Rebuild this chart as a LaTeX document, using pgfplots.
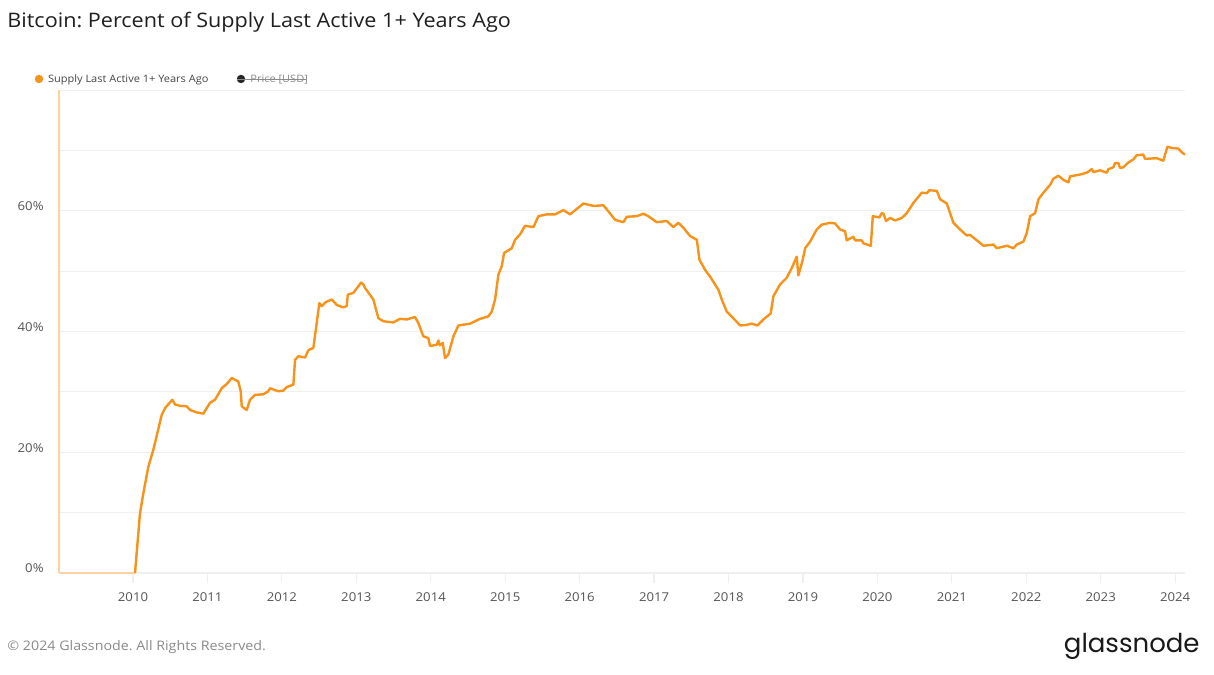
\documentclass[border=0pt]{standalone}
\usepackage{fontspec}
\setmainfont{Open Sans}[FakeStretch=1.08]
\newfontfamily\logofont{Poppins}
\usepackage{pgfplots}
\pgfplotsset{compat=1.18}
\definecolor{btc}{HTML}{F7931A}
\definecolor{btclight}{HTML}{FCD3A0}
\definecolor{gridc}{HTML}{EFEFEF}
\definecolor{tickc}{HTML}{555555}
\definecolor{legc}{HTML}{444444}
\definecolor{footc}{HTML}{8A8A8A}
\frenchspacing
\begin{document}
\begin{tikzpicture}
\useasboundingbox (0,0) rectangle (607pt,337pt);
\fill[white] (0,0) rectangle (607pt,337pt);
\begin{axis}[
  at={(29.5pt,50.5pt)}, anchor=south west,
  scale only axis, width=563pt, height=241.5pt,
  xmin=2009.006, xmax=2024.132, ymin=0, ymax=80,
  axis x line=bottom, axis y line=left,
  x axis line style={-, draw=gridc, line width=0.6pt},
  y axis line style={-, draw=btclight, line width=0.6pt},
  xtick={2010,2011,...,2024},
  xticklabels={2010,2011,2012,2013,2014,2015,2016,2017,2018,2019,2020,2021,2022,2023,2024},
  ytick={0,10,...,80},
  yticklabels={0\%,,20\%,,40\%,,60\%,,},
  ymajorgrids, major grid style={draw=gridc, line width=0.5pt},
  tick align=outside,
  x tick style={draw=gridc, line width=0.6pt},
  y tick style={draw=none},
  major tick length=5pt,
  /pgf/number format/assume math mode=true,
  xticklabel style={font=\fontsize{6.1}{7}\selectfont, text=tickc, yshift=-1.5pt},
  yticklabel style={font=\fontsize{6.1}{7}\selectfont, text=tickc, anchor=base east, inner sep=0pt, xshift=-2.5pt, yshift=0pt},
  clip=false,
]
\addplot[btclight, line width=1.1pt] coordinates {(2009.006,0) (2010.027,0)};
\addplot[btc, line width=1.2pt, line join=round] coordinates {
(2010.027,0) (2010.094,9.9) (2010.139,13.2) (2010.206,17.6) (2010.273,20.4)
(2010.386,26.2) (2010.430,27.3) (2010.528,28.7) (2010.565,27.9) (2010.632,27.7)
(2010.722,27.6) (2010.766,27.0) (2010.856,26.6) (2010.945,26.4) (2011.035,28.2)
(2011.102,28.7) (2011.192,30.6) (2011.259,31.3) (2011.326,32.3) (2011.415,31.7)
(2011.447,30.1) (2011.461,27.6) (2011.528,27.0) (2011.572,28.7) (2011.639,29.5)
(2011.751,29.6) (2011.818,30.1) (2011.841,30.6) (2011.952,30.1) (2012.019,30.2)
(2012.065,30.8) (2012.154,31.2) (2012.177,35.3) (2012.221,35.9) (2012.311,35.7)
(2012.356,36.9) (2012.423,37.3) (2012.468,41.4) (2012.503,44.7) (2012.535,44.2)
(2012.593,44.9) (2012.670,45.3) (2012.737,44.4) (2012.818,44.0) (2012.871,44.2)
(2012.885,46.1) (2012.960,46.4) (2013.064,48.1) (2013.095,47.8) (2013.117,47.2)
(2013.229,45.3) (2013.296,42.2) (2013.363,41.7) (2013.497,41.5) (2013.587,42.1)
(2013.677,42.0) (2013.789,42.4) (2013.833,41.4) (2013.900,39.2) (2013.968,38.9)
(2013.990,37.6) (2014.080,37.8) (2014.102,38.5) (2014.120,37.7) (2014.161,38.1)
(2014.192,35.6) (2014.237,36.2) (2014.304,39.2) (2014.371,41.0) (2014.528,41.3)
(2014.662,42.1) (2014.774,42.5) (2014.819,43.3) (2014.864,45.3) (2014.908,49.4)
(2014.953,50.8) (2014.985,53.0) (2015.088,53.8) (2015.133,55.2) (2015.200,56.1)
(2015.267,57.5) (2015.379,57.3) (2015.446,59.1) (2015.558,59.4) (2015.670,59.4)
(2015.782,60.1) (2015.872,59.4) (2015.961,60.3) (2016.050,61.2) (2016.184,60.8)
(2016.319,60.9) (2016.386,59.9) (2016.476,58.5) (2016.587,58.1) (2016.632,59.0)
(2016.766,59.1) (2016.856,59.5) (2016.923,59.1) (2017.035,58.1) (2017.170,58.3)
(2017.259,57.3) (2017.326,58.0) (2017.393,57.2) (2017.484,55.8) (2017.574,55.2)
(2017.609,51.9) (2017.685,50.2) (2017.752,49.1) (2017.864,46.9) (2017.909,45.3)
(2017.976,43.3) (2018.065,42.2) (2018.155,41.0) (2018.245,41.1) (2018.312,41.3)
(2018.387,41.0) (2018.468,42.0) (2018.567,43.0) (2018.602,45.8) (2018.692,47.8)
(2018.782,48.9) (2018.849,50.5) (2018.916,52.4) (2018.938,49.3) (2018.997,51.9)
(2019.029,53.8) (2019.096,54.9) (2019.185,56.9) (2019.253,57.7) (2019.364,58.0)
(2019.431,57.9) (2019.498,56.9) (2019.565,56.6) (2019.588,55.1) (2019.677,55.7)
(2019.700,55.1) (2019.789,55.1) (2019.812,54.6) (2019.911,54.2) (2019.938,59.1)
(2020.026,58.9) (2020.058,59.6) (2020.082,59.5) (2020.116,58.3) (2020.170,58.8)
(2020.237,58.4) (2020.327,58.8) (2020.394,59.6) (2020.483,61.3) (2020.596,63.0)
(2020.663,62.9) (2020.698,63.4) (2020.797,63.3) (2020.842,61.9) (2020.932,61.2)
(2021.021,58.0) (2021.111,56.9) (2021.200,55.9) (2021.245,56.0) (2021.335,55.1)
(2021.424,54.2) (2021.558,54.4) (2021.603,53.8) (2021.738,54.2) (2021.827,53.8)
(2021.872,54.4) (2021.961,54.9) (2022.006,56.3) (2022.051,59.1) (2022.118,59.6)
(2022.163,61.9) (2022.230,63.0) (2022.320,64.3) (2022.364,65.3) (2022.431,65.8)
(2022.499,65.1) (2022.566,64.7) (2022.588,65.7) (2022.723,66.0) (2022.812,66.3)
(2022.879,66.9) (2022.902,66.4) (2022.991,66.7) (2023.081,66.3) (2023.103,66.9)
(2023.170,67.2) (2023.192,67.9) (2023.237,67.9) (2023.259,67.1) (2023.304,67.2)
(2023.371,68.0) (2023.438,68.5) (2023.483,69.2) (2023.572,69.3) (2023.595,68.6)
(2023.752,68.7) (2023.841,68.3) (2023.895,70.6) (2023.953,70.4) (2024.042,70.3)
(2024.087,69.7) (2024.132,69.3)
};
\end{axis}
% title
\node[anchor=base west, inner sep=0pt, font=\fontsize{10}{12}\selectfont, text=black!88] at (3.5pt,323.2pt) {Bitcoin: Percent of Supply Last Active 1+ Years Ago};
% legend
\fill[btc] (19.5pt,297.5pt) circle (2.1pt);
\node[anchor=base west, inner sep=0pt, font=\fontsize{5.1}{6}\selectfont, text=legc] at (23.8pt,295.7pt) {Supply Last Active 1+ Years Ago};
\fill[black!85] (120.5pt,297.5pt) circle (2.1pt);
\node[anchor=base west, inner sep=0pt, font=\fontsize{5.1}{6}\selectfont, text=footc] at (125pt,295.7pt) {Price [USD]};
\draw[footc, line width=0.4pt] (118.5pt,297.5pt) -- (153pt,297.5pt);
% footer
\node[anchor=base west, inner sep=0pt, font=\fontsize{6.6}{8}\selectfont, text=footc] at (3.5pt,12pt) {© 2024 Glassnode. All Rights Reserved.};
\node[anchor=base east, inner sep=0pt, font=\logofont\fontsize{13}{15}\selectfont, text=black!90] at (600pt,11pt) {glassnode};
\end{tikzpicture}
\end{document}
